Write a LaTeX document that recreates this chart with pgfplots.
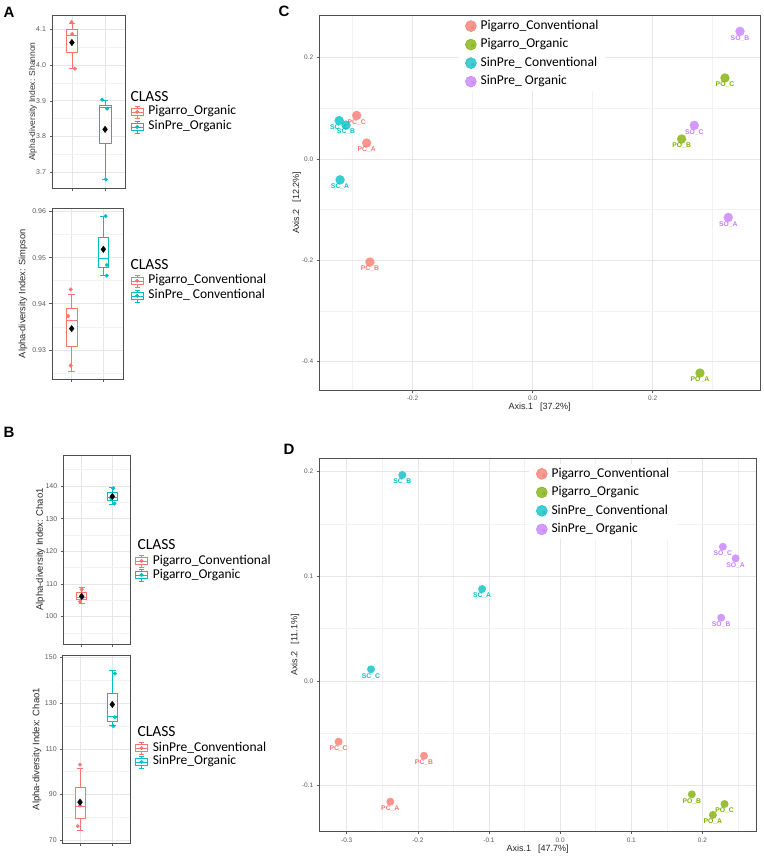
\documentclass[border=0pt]{standalone}
\usepackage{pgfplots}
\pgfplotsset{compat=1.18}
\usepgfplotslibrary{statistics}
\usepackage{fontspec}
\setmainfont{Liberation Sans}
\newfontfamily\carlito{Carlito}
\definecolor{cRed}{HTML}{F8766D}
\definecolor{cCyan}{HTML}{00BFC4}
\definecolor{cGreen}{HTML}{7CAE00}
\definecolor{cPurple}{HTML}{C77CFF}
\definecolor{gridc}{HTML}{E6E6E6}
\definecolor{gridm}{HTML}{F2F2F2}
\definecolor{tickc}{HTML}{5A5A5A}
\definecolor{framec}{HTML}{505050}
\pgfplotsset{
  gg/.style={scale only axis, axis line style={framec, line width=0.9pt},
    grid=both, major grid style={gridc, line width=0.6pt}, minor grid style={gridm, line width=0.45pt},
    tick align=outside, major tick length=2.5pt, minor tick length=0pt,
    xtick pos=bottom, ytick pos=left,
    tick style={tickc, line width=0.5pt},
    tick label style={text=tickc, font=\fontsize{7}{8}\selectfont},
    /pgf/number format/assume math mode=true, scaled ticks=false,
    legend cell align=left},
  boxleg/.style={legend image code/.code={
     \draw[#1, line width=0.6pt, fill=white] (0pt,-3.5pt) rectangle (12pt,3.5pt);
     \draw[#1, line width=0.6pt] (0pt,0pt) -- (12pt,0pt) (6pt,3.5pt) -- (6pt,6pt) (6pt,-3.5pt) -- (6pt,-6pt) (3.5pt,6pt) -- (8.5pt,6pt) (3.5pt,-6pt) -- (8.5pt,-6pt);
     \fill[#1] (6pt,0pt) circle (1.8pt);}},
  bl/.style={legend style={at={#1}, anchor=west, draw=none, fill=none, inner sep=0pt,
     font=\carlito\fontsize{13.5}{14}\selectfont, row sep=2pt, column sep=4pt,
     nodes={inner sep=1pt, text height=8.5pt, text depth=2.5pt}}},
  bx/.style={color=#1, fill=white, boxplot/draw direction=y, line width=0.6pt, forget plot},
  pt/.style={only marks, mark=*, mark size=1.8pt, #1, forget plot},
  mn/.style={only marks, mark=diamond*, mark size=3.2pt, black, forget plot},
  dotleg/.style={legend image code/.code={
     \fill[#1, fill opacity=0.75] (5.5pt,0pt) circle (5.5pt);
     \node[inner sep=0pt, text=#1!80!black, text opacity=0.5, font=\fontsize{6}{6}\selectfont] at (5.5pt,0pt) {a};}},
  sc/.style={only marks, color=#1, mark=*, mark options={fill=#1, fill opacity=0.78, draw opacity=0},
     nodes near coords, point meta=explicit symbolic,
     nodes near coords style={anchor=north, yshift=-3.8pt, inner sep=0pt, font=\bfseries\fontsize{6.8}{7}\selectfont, text=#1, opacity=1},
     dotleg=#1},
  sl/.style={legend style={at={#1}, anchor=west, draw=none, fill=white, inner xsep=7pt, inner ysep=2pt,
     font=\carlito\fontsize{13.5}{14}\selectfont, row sep=3pt, column sep=3pt,
     nodes={inner sep=1pt, text height=10pt, text depth=3.5pt}}},
}
\begin{document}
\begin{tikzpicture}
\useasboundingbox (0,0) rectangle (763pt,-856pt);

% ---------- A top: Shannon ----------
\begin{axis}[gg, at={(52pt,-188pt)}, anchor=south west, width=73pt, height=173pt,
  xmin=0.4, xmax=2.6, ymin=3.656, ymax=4.14,
  xtick={1,2}, xticklabels={}, ytick={3.7,3.8,3.9,4.0,4.1}, minor ytick={3.75,3.85,3.95,4.05},
  yticklabel style={/pgf/number format/fixed, /pgf/number format/fixed zerofill, /pgf/number format/precision=1},
  ylabel={Alpha-diversity Index: Shannon},
  ylabel style={at={(axis description cs:-0.26,0.5)}, anchor=center, font=\fontsize{8.5}{9}\selectfont, text=black!80},
  bl={(1.078,0.396)}]
\addplot[bx=cRed, boxplot prepared={draw position=1, lower whisker=3.99, lower quartile=4.035, median=4.083, upper quartile=4.10, upper whisker=4.117, box extend=0.33, whisker extend=0.2}] coordinates {};
\addplot[bx=cCyan, boxplot prepared={draw position=2, lower whisker=3.68, lower quartile=3.78, median=3.883, upper quartile=3.888, upper whisker=3.902, box extend=0.35, whisker extend=0.2}] coordinates {};
\addplot[pt=cRed] coordinates {(0.99,4.12) (1.01,4.087) (1.09,3.99)};
\addplot[pt=cCyan] coordinates {(1.91,3.903) (2.06,3.878) (2.02,3.68)};
\addplot[mn] coordinates {(1,4.063) (2,3.82)};
\addlegendimage{boxleg=cRed}\addlegendentry{Pigarro\_Organic}
\addlegendimage{boxleg=cCyan}\addlegendentry{SinPre\_Organic}
\end{axis}

% ---------- A bottom: Simpson ----------
\begin{axis}[gg, at={(52pt,-379.3pt)}, anchor=south west, width=71pt, height=171pt,
  xmin=0.38, xmax=2.62, ymin=0.9236, ymax=0.9607,
  xtick={1,2}, xticklabels={}, ytick={0.93,0.94,0.95,0.96}, minor ytick={0.925,0.935,0.945,0.955},
  yticklabel style={/pgf/number format/fixed, /pgf/number format/fixed zerofill, /pgf/number format/precision=2},
  ylabel={Alpha-diversity Index: Simpson},
  ylabel style={at={(axis description cs:-0.408,0.5)}, anchor=center, font=\fontsize{9.3}{10}\selectfont, text=black!85},
  bl={(1.108,0.532)}]
\addplot[bx=cRed, boxplot prepared={draw position=1, lower whisker=0.9253, lower quartile=0.9307, median=0.9363, upper quartile=0.9391, upper whisker=0.9420, box extend=0.33, whisker extend=0.2}] coordinates {};
\addplot[bx=cCyan, boxplot prepared={draw position=2, lower whisker=0.9461, lower quartile=0.9480, median=0.9498, upper quartile=0.9544, upper whisker=0.9590, box extend=0.33, whisker extend=0.2}] coordinates {};
\addplot[pt=cRed] coordinates {(0.97,0.9431) (0.89,0.9373) (0.97,0.9266)};
\addplot[pt=cCyan] coordinates {(2.07,0.9590) (2.11,0.9484) (2.11,0.9461)};
\addplot[mn] coordinates {(1,0.9346) (2,0.9518)};
\addlegendimage{boxleg=cRed}\addlegendentry{Pigarro\_Conventional}
\addlegendimage{boxleg=cCyan}\addlegendentry{SinPre\_ Conventional}
\end{axis}

% ---------- B top: Chao1 ----------
\begin{axis}[gg, at={(63.3pt,-644pt)}, anchor=south west, width=67.4pt, height=189pt,
  xmin=0.4, xmax=2.6, ymin=91.6, ymax=149.5,
  xtick={1,2}, xticklabels={}, ytick={100,110,120,130,140}, minor ytick={95,105,115,125,135,145},
  ylabel={Alpha-diversity Index: Chao1},
  ylabel style={at={(axis description cs:-0.338,0.5)}, anchor=center, font=\fontsize{9.5}{10}\selectfont, text=black!85},
  bl={(1.064,0.402)}, legend style={row sep=1pt}]
\addplot[bx=cRed, boxplot prepared={draw position=1, lower whisker=104.1, lower quartile=105.3, median=106.0, upper quartile=107.3, upper whisker=109.0, box extend=0.32, whisker extend=0.2}] coordinates {};
\addplot[bx=cCyan, boxplot prepared={draw position=2, lower whisker=134.5, lower quartile=135.7, median=136.5, upper quartile=138.1, upper whisker=139.6, box extend=0.32, whisker extend=0.2}] coordinates {};
\addplot[pt=cRed] coordinates {(1.0,108.3) (0.95,104.6) (1.03,105.8)};
\addplot[pt=cCyan] coordinates {(2.03,139.3) (1.97,136.2) (2.07,134.6)};
\addplot[mn] coordinates {(1,106.2) (2,136.8)};
\addlegendimage{boxleg=cRed}\addlegendentry{Pigarro\_Conventional}
\addlegendimage{boxleg=cCyan}\addlegendentry{Pigarro\_Organic}
\end{axis}

% ---------- B bottom: Chao1 ----------
\begin{axis}[gg, at={(62.7pt,-843.3pt)}, anchor=south west, width=68pt, height=188.3pt,
  xmin=0.464, xmax=2.57, ymin=68.7, ymax=151,
  xtick={1,2}, xticklabels={}, ytick={70,90,110,130,150}, minor ytick={80,100,120,140},
  ylabel={Alpha-diversity Index: Chao1},
  ylabel style={at={(axis description cs:-0.378,0.5)}, anchor=center, font=\fontsize{9.5}{10}\selectfont, text=black!85},
  bl={(1.063,0.469)}, legend style={row sep=0.7pt}]
\addplot[bx=cRed, boxplot prepared={draw position=1, lower whisker=74.5, lower quartile=79.8, median=85.0, upper quartile=93.1, upper whisker=101.4, box extend=0.31, whisker extend=0.2}] coordinates {};
\addplot[bx=cCyan, boxplot prepared={draw position=2, lower whisker=120.4, lower quartile=122.2, median=124.4, upper quartile=134.2, upper whisker=144.2, box extend=0.31, whisker extend=0.2}] coordinates {};
\addplot[pt=cRed] coordinates {(1.0,103.1) (0.93,76.2) (1.0,85.2)};
\addplot[pt=cCyan] coordinates {(2.08,142.9) (2.08,123.8) (2.03,119.9)};
\addplot[mn] coordinates {(1,86.7) (2,129.4)};
\addlegendimage{boxleg=cRed}\addlegendentry{SinPre\_Conventional}
\addlegendimage{boxleg=cCyan}\addlegendentry{SinPre\_Organic}
\end{axis}

% ---------- C: ordination ----------
\begin{axis}[gg, at={(319.3pt,-390pt)}, anchor=south west, width=440.7pt, height=375pt,
  xmin=-0.3556, xmax=0.3789, ymin=-0.456, ymax=0.2843,
  xtick={-0.2,0,0.2}, minor xtick={-0.3,-0.1,0.1,0.3},
  ytick={-0.4,-0.2,0,0.2}, minor ytick={-0.3,-0.1,0.1},
  ticklabel style={/pgf/number format/fixed, /pgf/number format/fixed zerofill, /pgf/number format/precision=1},
  tick label style={font=\fontsize{6.5}{7}\selectfont},
  xlabel={Axis.1\hspace{7pt}[37.2\%]},
  xlabel style={at={(axis description cs:0.5,-0.0445)}, anchor=center, font=\fontsize{9}{10}\selectfont, text=black!85},
  ylabel={Axis.2\hspace{7pt}[12.2\%]},
  ylabel style={at={(axis description cs:-0.0513,0.5)}, anchor=center, font=\fontsize{9}{10}\selectfont, text=black!85},
  sl={(0.3147,0.8964)}]
\addplot[sc=cRed, mark size=4.7pt] table[meta=lab, row sep=\\] {x y lab\\ -0.2933 0.086 PC\_C\\ -0.2767 0.0316 PC\_A\\ -0.2712 -0.2034 PC\_B\\};
\addlegendentry{Pigarro\_Conventional}
\addplot[sc=cGreen, mark size=4.7pt] table[meta=lab, row sep=\\] {x y lab\\ 0.3205 0.160 PO\_C\\ 0.2483 0.0395 PO\_B\\ 0.2788 -0.4225 PO\_A\\};
\addlegendentry{Pigarro\_Organic}
\addplot[sc=cCyan, mark size=4.7pt] table[meta=lab, row sep=\\] {x y lab\\ -0.3225 0.0760 SC\_C\\ -0.3110 0.0670 SC\_B\\ -0.321 -0.041 SC\_A\\};
\addlegendentry{SinPre\_ Conventional}
\addplot[sc=cPurple, mark size=4.7pt] table[meta=lab, row sep=\\] {x y lab\\ 0.3455 0.252 SO\_B\\ 0.2694 0.0664 SO\_C\\ 0.326 -0.1153 SO\_A\\};
\addlegendentry{SinPre\_ Organic}
\end{axis}

% ---------- D: ordination ----------
\begin{axis}[gg, at={(319.3pt,-831.7pt)}, anchor=south west, width=436.7pt, height=373.4pt,
  xmin=-0.3385, xmax=0.2753, ymin=-0.144, ymax=0.2128,
  xtick={-0.3,-0.2,-0.1,0,0.1,0.2}, minor xtick={-0.25,-0.15,-0.05,0.05,0.15,0.25},
  ytick={-0.1,0,0.1,0.2}, minor ytick={-0.05,0.05,0.15},
  ticklabel style={/pgf/number format/fixed, /pgf/number format/fixed zerofill, /pgf/number format/precision=1},
  tick label style={font=\fontsize{6.5}{7}\selectfont},
  xlabel={Axis.1\hspace{7pt}[47.7\%]},
  xlabel style={at={(axis description cs:0.5,-0.0463)}, anchor=center, font=\fontsize{9}{10}\selectfont, text=black!85},
  ylabel={Axis.2\hspace{7pt}[11.1\%]},
  ylabel style={at={(axis description cs:-0.0556,0.5)}, anchor=center, font=\fontsize{9}{10}\selectfont, text=black!85},
  sl={(0.480,0.884)}]
\addplot[sc=cRed, mark size=4pt] table[meta=lab, row sep=\\] {x y lab\\ -0.3114 -0.058 PC\_C\\ -0.1913 -0.0714 PC\_B\\ -0.2387 -0.1153 PC\_A\\};
\addlegendentry{Pigarro\_Conventional}
\addplot[sc=cGreen, mark size=4pt] table[meta=lab, row sep=\\] {x y lab\\ 0.1851 -0.1083 PO\_B\\ 0.2311 -0.1175 PO\_C\\ 0.2147 -0.128 PO\_A\\};
\addlegendentry{Pigarro\_Organic}
\addplot[sc=cCyan, mark size=4pt] table[meta=lab, row sep=\\] {x y lab\\ -0.2218 0.1968 SC\_B\\ -0.1097 0.0879 SC\_A\\ -0.2658 0.0112 SC\_C\\};
\addlegendentry{SinPre\_ Conventional}
\addplot[sc=cPurple, mark size=4pt] table[meta=lab, row sep=\\] {x y lab\\ 0.2287 0.1283 SO\_C\\ 0.2466 0.1172 SO\_A\\ 0.2264 0.0605 SO\_B\\};
\addlegendentry{SinPre\_ Organic}
\end{axis}

% ---------- titles ----------
\node[font=\carlito\fontsize{15.5}{16}\selectfont, anchor=west] at (127pt,-97pt) {CLASS};
\node[font=\carlito\fontsize{15.5}{16}\selectfont, anchor=west] at (127pt,-265pt) {CLASS};
\node[font=\carlito\fontsize{15.5}{16}\selectfont, anchor=west] at (134pt,-545pt) {CLASS};
\node[font=\carlito\fontsize{15.5}{16}\selectfont, anchor=west] at (134pt,-731.7pt) {CLASS};
\node[font=\bfseries\fontsize{15}{15}\selectfont] at (9pt,-12pt) {A};
\node[font=\bfseries\fontsize{15}{15}\selectfont] at (9pt,-432pt) {B};
\node[font=\bfseries\fontsize{15}{15}\selectfont] at (284pt,-11pt) {C};
\node[font=\bfseries\fontsize{15}{15}\selectfont] at (289pt,-449pt) {D};
\end{tikzpicture}
\end{document}
